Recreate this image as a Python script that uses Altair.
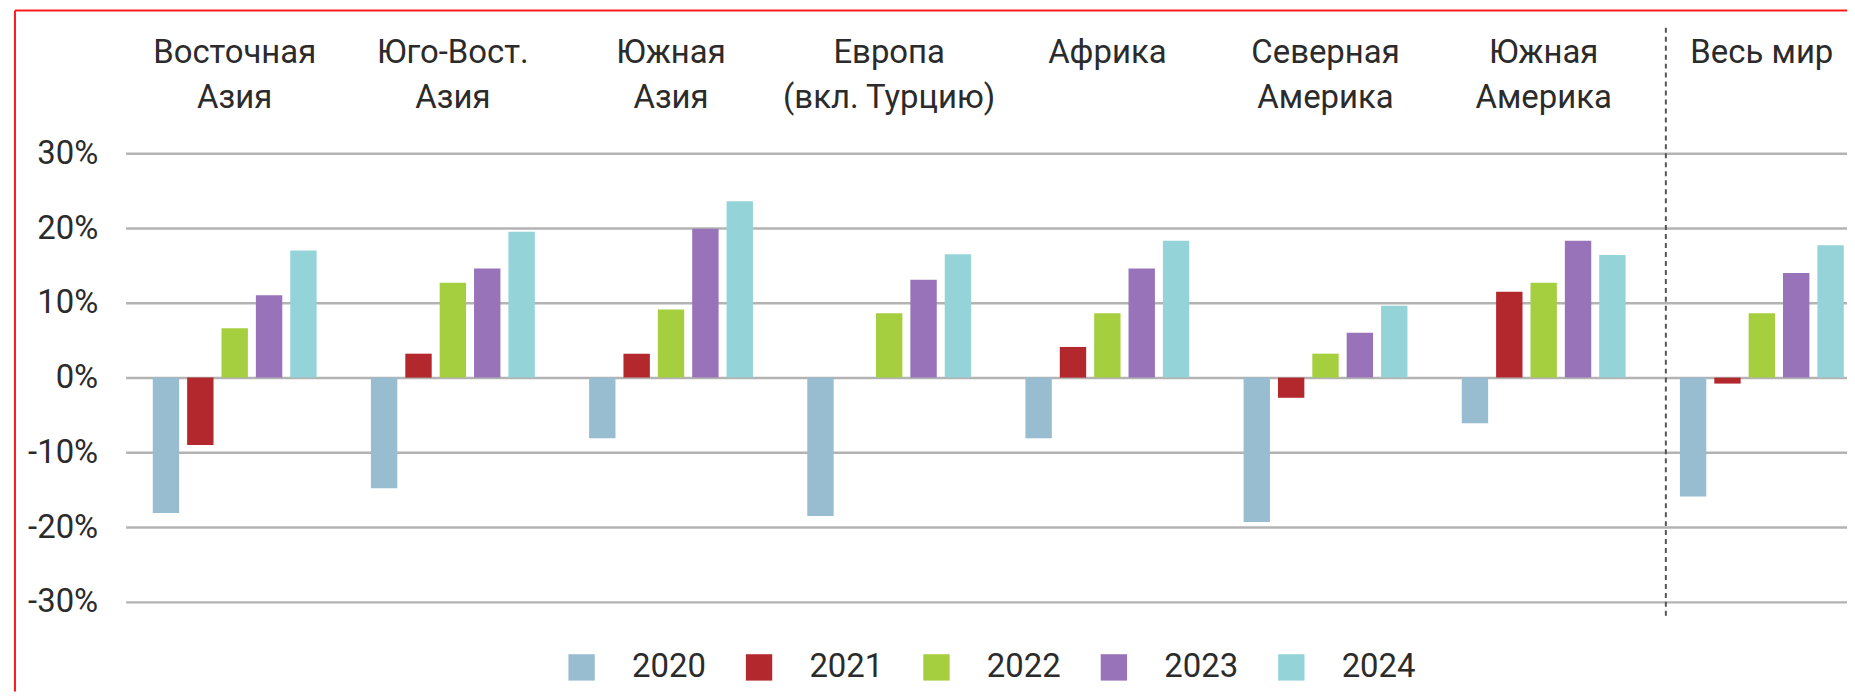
import altair as alt
import pandas as pd

# ---- data ----
regions = [
    "Восточная|Азия",
    "Юго-Вост.|Азия",
    "Южная|Азия",
    "Европа|(вкл. Турцию)",
    "Африка|",
    "Северная|Америка",
    "Южная|Америка",
    "Весь мир|",
]
years = ["2020", "2021", "2022", "2023", "2024"]
v2020 = [-18.1, -14.8, -8.1, -18.5, -8.1, -19.3, -6.1, -15.9]
v2021 = [-9.0, 3.2, 3.2, None, 4.1, -2.7, 11.5, -0.8]
v2022 = [6.6, 12.7, 9.1, 8.6, 8.6, 3.2, 12.7, 8.6]
v2023 = [11.0, 14.6, 19.9, 13.1, 14.6, 6.0, 18.3, 14.0]
v2024 = [17.0, 19.5, 23.6, 16.5, 18.3, 9.6, 16.4, 17.7]
colors = ["#98bdd1", "#b3282d", "#a6cf3f", "#9873ba", "#94d4d9"]
y_ticks = [-30, -20, -10, 0, 10, 20, 30]
separator_region = "Весь мир|"
separator_span = [46.8, -31.9]

FONT = "Roboto, Liberation Sans, sans-serif"
FS = 33
TXT = "#2b2b2b"

rows = []
for yr, vals in zip(years, [v2020, v2021, v2022, v2023, v2024]):
    for r, v in zip(regions, vals):
        if v is not None:
            rows.append({"region": r, "year": yr, "value": v})
df = pd.DataFrame(rows)

x_scale = alt.Scale(domain=regions, range=[6, 1757], paddingInner=0, paddingOuter=0)
y_scale = alt.Scale(domain=[-30, 30], nice=False)

bars = alt.Chart(df).mark_bar().encode(
    x=alt.X(
        "region:N",
        scale=x_scale,
        sort=regions,
        axis=alt.Axis(
            orient="top", title=None, domain=False, ticks=False, labelAngle=0,
            labelFontSize=FS, labelFont=FONT, labelColor=TXT, labelPadding=84,
            labelLineHeight=45, labelExpr="split(datum.label, '|')",
            labelLimit=0, labelOverlap=False,
        ),
    ),
    xOffset=alt.XOffset("year:N", scale=alt.Scale(domain=years, paddingInner=0.232, paddingOuter=0.79)),
    y=alt.Y(
        "value:Q",
        scale=y_scale,
        axis=alt.Axis(
            values=y_ticks, labelExpr="datum.value + '%'", title=None, domain=False,
            ticks=False, grid=True, gridColor="#b3b3b3", gridWidth=2.5,
            labelFontSize=FS, labelFont=FONT, labelColor=TXT, labelPadding=22,
        ),
    ),
    color=alt.Color(
        "year:N",
        scale=alt.Scale(domain=years, range=colors),
        legend=alt.Legend(
            title=None, orient="none", direction="horizontal", legendX=447, legendY=499,
            symbolType="square", symbolSize=700, symbolStrokeWidth=0, symbolOpacity=1,
            labelFontSize=FS, labelFont=FONT, labelColor=TXT, labelOffset=34,
            columnPadding=36,
        ),
    ),
)

sep_df = pd.DataFrame({"region": [separator_region], "top": [separator_span[0]], "bottom": [separator_span[1]]})
sep = alt.Chart(sep_df).mark_rule(color="#555555", strokeWidth=2, strokeDash=[5, 4]).encode(
    x=alt.X("region:N", bandPosition=0.06, title=None),
    y=alt.Y("top:Q", title=None),
    y2="bottom:Q",
)

# red highlight frame of the source picture (only its left and top edges are visible)
frame_df = pd.DataFrame({"k": [0]})
frame_left = alt.Chart(frame_df).mark_rule(color="#ff1a1a", strokeWidth=2).encode(
    x=alt.value(-105), y=alt.value(-143.4), y2=alt.value(540)
)
frame_top = alt.Chart(frame_df).mark_rule(color="#ff1a1a", strokeWidth=2).encode(
    x=alt.value(-105), x2=alt.value(1733), y=alt.value(-143.4)
)

chart = alt.layer(bars, sep, frame_left, frame_top).properties(
    width=1733,
    height=450,
    autosize=alt.AutoSizeParams(type="none"),
    padding={"left": 112, "top": 144.7, "right": 0, "bottom": 90},
).configure_view(stroke=None)

chart.save("out.html", embed_options={"renderer": "svg", "actions": False})
